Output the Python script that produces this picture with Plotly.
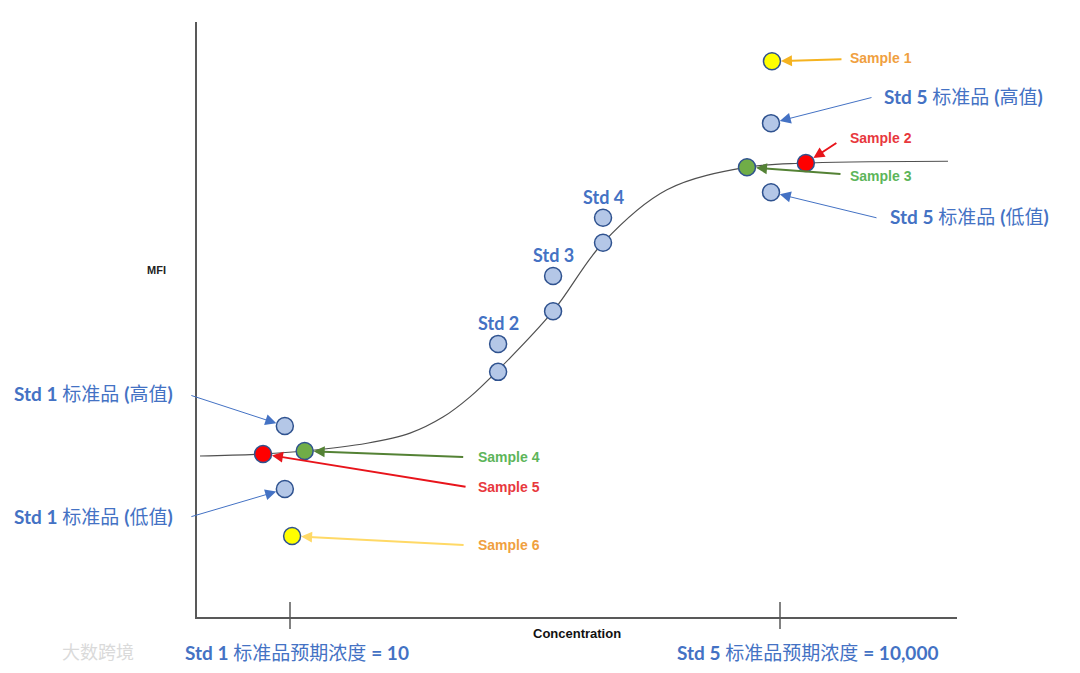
import numpy as np
import plotly.graph_objects as go

# ---------------- data ----------------
STD_NAMES = ["Std 1", "Std 2", "Std 3", "Std 4", "Std 5"]
STD_CONC = [9.3, 188, 408, 825, 8810]
STD_MFI_HIGH = [32.1, 45.9, 57.3, 67.1, 83.0]
STD_MFI_LOW = [21.5, 41.2, 51.4, 62.9, 71.4]

SAMPLE_NAMES = ["Sample 1", "Sample 2", "Sample 3", "Sample 4", "Sample 5", "Sample 6"]
SAMPLE_CONC = [8930, 14400, 6280, 12.3, 6.84, 10.3]
SAMPLE_MFI = [93.4, 76.3, 75.6, 27.9, 27.4, 13.6]

CURVE_CONC = [2.81, 6.84, 12.35, 29.6, 54.3, 86.4, 126.5, 188, 408,
              825, 2033, 6281, 14425, 106800]
CURVE_MFI = [27.06, 27.4, 27.9, 29.2, 30.9, 33.6, 37.0, 41.5, 51.4,
             62.9, 71.8, 75.6, 76.3, 76.6]

TICK_CONC = [10, 10000]
TICK_LABELS = ["<b>Std 1</b> 标准品预期浓度 <b>= 10</b>",
               "<b>Std 5</b> 标准品预期浓度 <b>= 10,000</b>"]
X_TITLE = "Concentration"
Y_TITLE = "MFI"
WATERMARK = "大数跨境"

# ---------------- styles ----------------
BLUE = "#4472C4"
STD_FILL = "#B4C7E7"
EDGE = "#2F528F"
SAMPLE_FILL = ["#FFFF00", "#FF0000", "#70AD47", "#70AD47", "#FF0000", "#FFFF00"]
SAMPLE_TEXT = ["#F0A040", "#E8383D", "#5DB55A", "#5DB55A", "#E8383D", "#F0A040"]
SAMPLE_ARROW = ["#F5B320", "#E8141B", "#548235", "#548235", "#E8141B", "#FFD966"]
CJK = "Lato, 'Noto Sans CJK SC', sans-serif"
ARIAL = "'Liberation Sans', Arial, sans-serif"

# plot-area pixel geometry in the browser window (page body has an 8px margin)
OFF = 8
L, R, T, B = 197, 957, 22, 617
W, H = 1060, 657


def pxx(p):
    return (p - L) / (R - L)


def pxy(p):
    return (B - p) / (B - T)


fig = go.Figure()

fig.add_trace(go.Scatter(x=CURVE_CONC, y=CURVE_MFI, mode="lines",
                         line=dict(color="#505050", width=1.2, shape="spline", smoothing=1.0),
                         hoverinfo="skip", showlegend=False))

fig.add_trace(go.Scatter(x=STD_CONC, y=STD_MFI_HIGH, mode="markers", name="Std high",
                         marker=dict(size=17, color=STD_FILL, line=dict(color=EDGE, width=1.5)),
                         cliponaxis=False, showlegend=False))
fig.add_trace(go.Scatter(x=STD_CONC, y=STD_MFI_LOW, mode="markers", name="Std low",
                         marker=dict(size=17, color=STD_FILL, line=dict(color=EDGE, width=1.5)),
                         cliponaxis=False, showlegend=False))
fig.add_trace(go.Scatter(x=SAMPLE_CONC, y=SAMPLE_MFI, mode="markers", name="Samples",
                         text=SAMPLE_NAMES,
                         marker=dict(size=17, color=SAMPLE_FILL, line=dict(color=EDGE, width=1.5)),
                         cliponaxis=False, showlegend=False))

ann = []

# Std 2-4 labels above their high points
for i in (1, 2, 3):
    ann.append(dict(x=np.log10(STD_CONC[i]), y=STD_MFI_HIGH[i], xref="x", yref="y",
                    text="<b>%s</b>" % STD_NAMES[i], showarrow=False, yshift=21,
                    font=dict(family=CJK, size=18, color=BLUE)))

# sample arrows (offset of arrow tail in px) and label positions (px)
sample_tail = [(71, -2), (32, -21), (95, 7), (160, 6), (204, 33), (173, 9)]
sample_lbl = [(848, 58), (848, 138), (848, 176), (476, 457), (476, 487), (476, 545)]
for i, name in enumerate(SAMPLE_NAMES):
    ann.append(dict(x=np.log10(SAMPLE_CONC[i]), y=SAMPLE_MFI[i], xref="x", yref="y",
                    text="", showarrow=True, ax=sample_tail[i][0], ay=sample_tail[i][1],
                    arrowhead=2, arrowsize=1.1, arrowwidth=2, arrowcolor=SAMPLE_ARROW[i],
                    standoff=9))
    ann.append(dict(x=pxx(sample_lbl[i][0]), y=pxy(sample_lbl[i][1]), xref="paper", yref="paper",
                    text="<b>%s</b>" % name, showarrow=False, xanchor="left", yanchor="middle",
                    font=dict(family=ARIAL, size=14, color=SAMPLE_TEXT[i])))

# Std 1 / Std 5 high and low arrows + labels
std_arrows = [
    (0, STD_MFI_HIGH, (-95, -31), (175, 393), "right", "高值"),
    (0, STD_MFI_LOW, (-95, 28), (175, 517), "right", "低值"),
    (4, STD_MFI_HIGH, (102, -26), (882, 96), "left", "高值"),
    (4, STD_MFI_LOW, (107, 26), (888, 217), "left", "低值"),
]
for idx, arr, tail, lbl, anchor, word in std_arrows:
    ann.append(dict(x=np.log10(STD_CONC[idx]), y=arr[idx], xref="x", yref="y",
                    text="", showarrow=True, ax=tail[0], ay=tail[1],
                    arrowhead=2, arrowsize=2.2, arrowwidth=1, arrowcolor=BLUE, standoff=9))
    ann.append(dict(x=pxx(lbl[0]), y=pxy(lbl[1]), xref="paper", yref="paper",
                    text="<b>%s</b> 标准品 <b>(</b>%s<b>)</b>" % (STD_NAMES[idx], word),
                    showarrow=False, xanchor=anchor, yanchor="middle",
                    font=dict(family=CJK, size=19, color=BLUE)))

# tick labels below the x axis
for v, lab, sh in zip(TICK_CONC, TICK_LABELS, (7, 27)):
    ann.append(dict(x=np.log10(v), y=pxy(652), xref="x", yref="paper", text=lab,
                    showarrow=False, xshift=sh, xanchor="center", yanchor="middle",
                    font=dict(family=CJK, size=19, color=BLUE)))

ann.append(dict(x=pxx(577), y=pxy(634), xref="paper", yref="paper", text="<b>%s</b>" % X_TITLE,
                showarrow=False, xanchor="center", yanchor="middle",
                font=dict(family=ARIAL, size=13, color="#111111")))
ann.append(dict(x=pxx(156), y=pxy(270), xref="paper", yref="paper", text="<b>%s</b>" % Y_TITLE,
                showarrow=False, xanchor="center", yanchor="middle",
                font=dict(family=ARIAL, size=11, color="#222222")))
ann.append(dict(x=pxx(60), y=pxy(651), xref="paper", yref="paper", text=WATERMARK,
                showarrow=False, xanchor="left", yanchor="middle",
                font=dict(family="'Noto Sans CJK SC'", size=18, color="#DADADA")))

# ticks crossing the x axis line
shapes = []
for v in TICK_CONC:
    shapes.append(dict(type="line", xref="x", yref="paper", x0=v, x1=v,
                       y0=pxy(629), y1=pxy(602), line=dict(color="#595959", width=1.5)))

fig.update_layout(
    width=W, height=H,
    margin=dict(l=L - OFF, r=W - (R - OFF), t=T - OFF, b=H - (B - OFF)),
    paper_bgcolor="white", plot_bgcolor="white",
    annotations=ann, shapes=shapes,
    xaxis=dict(type="log", range=[0.4306, 5.0837], showline=True, linecolor="#595959",
               linewidth=1.5, showgrid=False, zeroline=False, ticks="",
               showticklabels=False),
    yaxis=dict(range=[0, 100], showline=True, linecolor="#595959", linewidth=1.5,
               showgrid=False, zeroline=False, ticks="", showticklabels=False),
    showlegend=False,
)

fig.write_html("out.html")
